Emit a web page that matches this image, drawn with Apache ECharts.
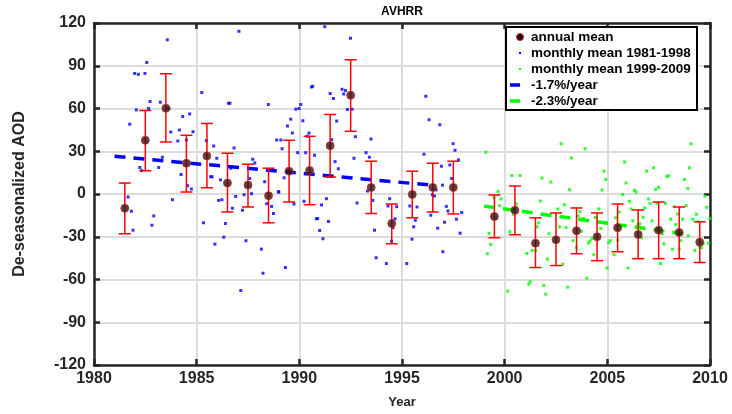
<!DOCTYPE html>
<html><head><meta charset="utf-8">
<script src="https://cdn.jsdelivr.net/npm/echarts@6/dist/echarts.min.js"></script>
<style>html,body{margin:0;padding:0;background:#fff}#c{width:732px;height:414px}</style>
</head><body><div id="c"></div>
<script>
// ---- data ----
const xTicks = [1980, 1985, 1990, 1995, 2000, 2005, 2010];
const yTicks = [-120, -90, -60, -30, 0, 30, 60, 90, 120];

const annualYears = [1981.5,1982.5,1983.5,1984.5,1985.5,1986.5,1987.5,1988.5,1989.5,1990.5,1991.5,1992.5,1993.5,1994.5,1995.5,1996.5,1997.5,
                     1999.5,2000.5,2001.5,2002.5,2003.5,2004.5,2005.5,2006.5,2007.5,2008.5,2009.5];
const annualMean  = [-10.0,37.7,60.2,21.6,26.7,7.7,6.3,-1.2,16.0,16.5,33.9,69.3,4.6,-20.7,-0.3,4.6,4.6,
                     -15.8,-11.4,-34.5,-32.1,-25.8,-30.0,-23.7,-28.4,-25.4,-27.0,-33.8];
const annualHigh  = [7.7,58.6,84.4,41.2,49.5,28.6,20.9,18.1,37.7,40.5,55.8,94.2,23.0,-7.0,16.0,21.6,23.0,
                     -0.7,5.6,-16.7,-13.3,-9.8,-13.3,-7.0,-11.2,-5.6,-9.1,-19.5];
const annualLow   = [-27.9,16.3,36.5,1.4,4.4,-12.6,-9.1,-20.2,-5.6,-7.5,11.9,44.0,-13.7,-34.9,-16.7,-12.6,-14.0,
                     -30.7,-28.6,-51.6,-50.2,-41.9,-46.8,-40.5,-45.4,-45.4,-45.4,-48.1];

const monthly1Years = [1987.06,1983.57,1982.57,1981.98,1982.16,1982.48,1985.25,1986.55,1986.62,1988.49,1990.07,1989.99,1989.83,1982.73,1983.23,1982.06,1982.66,1983.65,1984.66,1984.32,1981.74,1989.58,1990.17,1989.42,1989.66,1990.47,1983.74,1984.16,1984.82,1984.08,1984.50,1985.47,1985.83,1986.82,1988.90,1989.10,1989.16,1989.92,1990.31,1983.33,1982.23,1983.15,1987.73,1987.83,1985.98,1986.66,1984.24,1985.68,1985.75,1986.16,1987.58,1988.31,1989.26,1982.32,1984.56,1984.74,1988.98,1987.67,
  1981.66,1981.82,1981.90,1982.91,1982.82,1983.82,1985.33,1986.07,1986.23,1986.40,1986.32,1985.89,1986.74,1986.90,1987.23,1987.31,1987.40,1987.15,1988.15,1988.23,1988.41,1988.65,1988.74,1989.00,1989.32,1989.74,1990.23,
  1991.24,1992.49,1990.59,1990.65,1991.50,1991.66,1992.08,1992.25,1992.16,1992.34,1992.57,1991.82,1992.73,1993.49,1990.39,1991.58,1990.74,1992.66,1993.25,1993.41,1991.74,1991.90,1996.16,1996.32,1996.84,1997.49,1997.58,1997.75,1996.07,1996.92,1997.33,1997.42,1996.97,1996.66,
  1991.08,1991.32,1990.83,1990.89,1991.42,1990.99,1991.15,1992.81,1993.32,1993.58,1993.66,1993.74,1994.24,1994.40,1994.32,1994.74,1994.66,1994.56,1994.49,1995.23,1995.38,1995.73,1995.65,1995.57,1995.49,1996.40,1996.48,1996.58,1997.16,1997.24,1997.07,1996.74,1996.99,1997.65,1997.91,1997.83];
const monthly1Vals = [114.2,108.2,92.3,84.6,84.0,84.6,71.2,63.7,63.7,62.8,62.8,60.0,59.5,64.9,64.4,59.0,60.0,60.0,56.2,54.4,49.0,52.5,51.4,47.7,42.8,42.8,43.5,44.9,43.7,37.2,37.9,37.4,33.7,32.3,37.9,37.9,31.8,29.0,29.0,25.8,18.6,18.6,24.4,21.8,25.1,18.1,13.7,12.1,12.1,9.9,10.9,8.6,11.4,16.4,5.8,3.5,1.6,0.2,
  -2.1,-12.1,-25.4,-15.4,-21.9,-4.0,-20.2,-4.5,-4.0,-20.7,-30.3,-35.2,-10.0,-1.7,-11.4,-0.5,-32.8,-67.7,-38.7,-55.6,-6.8,-8.7,-13.7,1.4,-51.6,-7.0,-5.1,
  117.4,109.3,75.1,75.6,70.5,67.0,73.5,72.6,70.2,59.3,59.5,51.2,40.2,38.6,40.5,38.1,27.2,25.1,29.0,25.8,22.7,17.7,68.6,52.1,48.6,35.3,30.7,23.9,27.9,19.5,20.4,10.9,6.2,2.9,
  -7.7,-3.3,-17.4,-17.2,-19.3,-25.6,-31.4,-6.3,2.1,-4.5,-25.4,-44.7,-48.8,-3.3,-8.4,-8.9,-17.4,-23.7,-33.1,-48.8,-8.4,-9.1,-18.4,-23.0,-31.7,-14.9,-0.5,-1.4,-8.7,-11.9,-19.8,-24.0,-40.5,-17.7,-13.0,-27.5];

const monthly2Years = [1999.08,2000.35,1999.68,1999.82,1999.76,1999.48,1999.24,1999.32,1999.16,2000.15,2000.57,2000.43,2000.25,1999.57,2002.75,2003.92,2003.25,2005.84,2009.08,2000.75,2001.82,2002.25,2003.16,2004.84,2004.92,2005.91,2006.91,2007.25,2007.90,2007.98,2008.76,2009.00,2007.35,2007.50,2008.92,2004.74,2006.32,2006.40,
  2001.08,2001.17,2001.24,2001.34,2001.50,2001.66,2001.58,2001.74,2001.90,2002.00,2002.08,2002.16,2002.59,2002.67,2002.83,2002.91,2002.99,2003.07,2003.33,2003.50,2003.58,2003.66,2003.74,2003.84,2004.00,2004.08,2004.16,2004.26,2004.34,2004.42,2004.58,2004.68,2004.99,2005.07,2005.15,2005.33,2005.41,2005.51,2005.57,2005.75,2006.00,2006.08,2006.16,2006.24,2006.50,2006.57,2006.66,2006.74,2006.82,2007.00,2007.08,2007.17,2007.41,2007.59,2007.67,2007.75,2007.83,2008.08,2008.17,2008.25,2008.33,2008.42,2008.50,2008.58,2008.66,2008.84,2008.95,2009.16,2009.26,2009.34,2009.42,2009.50,2009.59,2009.66,2009.75,2009.84,2009.93,2009.99];
const monthly2Vals = [29.3,13.0,1.8,-3.5,-8.2,-2.6,-27.7,-35.4,-41.9,-68.2,-7.0,-14.2,-26.5,-17.2,35.3,31.8,25.3,22.5,35.3,13.0,11.2,8.4,3.0,16.0,10.2,7.7,16.0,18.4,12.3,12.8,10.2,18.4,3.2,4.6,3.9,2.8,2.6,1.4,
  -41.7,-63.3,-61.7,-39.6,-39.6,-20.2,-23.0,-4.9,-64.2,-70.3,-45.8,-27.9,-10.5,-23.0,-49.3,-7.5,-23.5,-65.4,-32.8,-37.7,-15.4,-12.4,-26.1,-17.2,-59.1,-34.5,-33.1,-31.2,-42.6,-16.5,-10.5,-24.2,-51.9,-34.2,-32.8,-42.6,-16.7,-32.4,-12.6,-0.3,-51.9,-5.1,-10.5,-18.8,-21.4,-20.9,-30.7,-16.3,-9.8,-3.5,-6.6,-18.8,-6.6,-48.8,-27.9,-34.9,-6.6,-17.7,-38.7,-8.9,-21.4,-14.0,-38.7,-32.8,-17.7,-8.2,-29.3,-17.7,-39.6,-14.2,-19.5,-37.3,-37.7,-34.9,-1.4,-9.3,-34.5,-17.2];

const trend1Years = [1981.0, 1996.6];
const trend1Vals  = [26.5, 6.0];
const trend2Years = [1999.0, 2009.0];
const trend2Vals  = [-8.5, -28.5];

const legendLabels = ['annual mean', 'monthly mean 1981-1998', 'monthly mean 1999-2009', '-1.7%/year', '-2.3%/year'];
const titleText = 'AVHRR';
const xName = 'Year';
const yName = 'De-seasonalized AOD';

// ---- chart ----
const FONT = '"Liberation Sans", Arial, sans-serif';
const AX = '#262626';
const zip = (a, b) => a.map((v, i) => [v, b[i]]);
const chart = echarts.init(document.getElementById('c'), null, {renderer: 'canvas'});

const axisCommon = {
  type: 'value',
  axisLine: {show: true, onZero: false, lineStyle: {color: AX, width: 2.5}},
  axisTick: {show: true, inside: true, length: 6, lineStyle: {color: AX, width: 2.5}},
};

const errData = annualYears.map((x, i) => [x, annualLow[i], annualHigh[i]]);

const lx = 506, ly = 27, rowH = 16;
const legendGraphics = [
  {type: 'rect', shape: {x: lx, y: ly, width: 191, height: 83}, style: {fill: '#fff', stroke: '#000', lineWidth: 2}, z: 100},
  {type: 'circle', shape: {cx: 520, cy: ly + 10, r: 3.5}, style: {fill: '#1a1010', stroke: '#cc2222', lineWidth: 1}, z: 101},
  {type: 'rect', shape: {x: 519, y: ly + 10 + rowH - 1, width: 2, height: 2}, style: {fill: '#0000ff'}, z: 101},
  {type: 'rect', shape: {x: 519, y: ly + 10 + 2 * rowH - 1, width: 2, height: 2}, style: {fill: '#00ff00'}, z: 101},
  {type: 'line', shape: {x1: 510, y1: ly + 10 + 3 * rowH, x2: 520, y2: ly + 10 + 3 * rowH}, style: {stroke: '#0000ff', lineWidth: 3.5}, z: 101},
  {type: 'line', shape: {x1: 510, y1: ly + 10 + 4 * rowH, x2: 520, y2: ly + 10 + 4 * rowH}, style: {stroke: '#00ff00', lineWidth: 3.5}, z: 101},
].concat(legendLabels.map((t, i) => ({
  type: 'text', x: 531, y: ly + 10 + i * rowH, z: 101,
  style: {text: t, fill: '#000', font: 'bold 13.5px ' + FONT, textVerticalAlign: 'middle', verticalAlign: 'middle'}
})));

const option = {
  backgroundColor: '#fff',
  animation: false,
  grid: {left: 94, right: 22, top: 23, bottom: 47, containLabel: false},
  graphic: [
    {type: 'text', x: 402, y: 12, style: {text: titleText, fill: '#000', font: 'bold 12px ' + FONT, textAlign: 'center', align: 'center', textVerticalAlign: 'middle', verticalAlign: 'middle'}},
  ].concat(legendGraphics),
  xAxis: [
    Object.assign({}, axisCommon, {
      min: xTicks[0], max: xTicks[xTicks.length - 1], interval: 5, position: 'bottom',
      name: xName, nameLocation: 'middle', nameGap: 31,
      nameTextStyle: {fontFamily: FONT, fontWeight: 'bold', fontSize: 13, color: AX},
      axisLabel: {fontFamily: FONT, fontWeight: 'bold', fontSize: 16, color: AX, margin: 6,
                  formatter: v => String(v)},
      splitLine: {show: true, lineStyle: {color: '#dcdcdc', width: 2}}
    }),
    Object.assign({}, axisCommon, {
      min: xTicks[0], max: xTicks[xTicks.length - 1], interval: 5, position: 'top',
      axisLabel: {show: false}, splitLine: {show: false}
    })
  ],
  yAxis: [
    Object.assign({}, axisCommon, {
      min: yTicks[0], max: yTicks[yTicks.length - 1], interval: 30, position: 'left',
      name: yName, nameLocation: 'middle', nameGap: 66, nameRotate: 90,
      nameTextStyle: {fontFamily: FONT, fontWeight: 'bold', fontSize: 16, color: AX},
      axisLabel: {fontFamily: FONT, fontWeight: 'bold', fontSize: 16, color: AX, margin: 8},
      splitLine: {show: true, lineStyle: {color: '#dcdcdc', width: 2}}
    }),
    Object.assign({}, axisCommon, {
      min: yTicks[0], max: yTicks[yTicks.length - 1], interval: 30, position: 'right',
      axisLabel: {show: false}, splitLine: {show: false}
    })
  ],
  series: [
    {type: 'scatter', data: zip(monthly1Years, monthly1Vals), symbol: 'rect', symbolSize: 3,
     itemStyle: {color: '#0000ff'}, z: 2, silent: true},
    {type: 'scatter', data: zip(monthly2Years, monthly2Vals), symbol: 'rect', symbolSize: 3,
     itemStyle: {color: '#00ff00'}, z: 2, silent: true},
    {type: 'line', data: zip(trend1Years, trend1Vals), symbol: 'none', z: 3,
     lineStyle: {color: '#0000ff', width: 3.5, type: [11, 8]}},
    {type: 'line', data: zip(trend2Years, trend2Vals), symbol: 'none', z: 3,
     lineStyle: {color: '#00ff00', width: 3.5, type: [11, 8]}},
    {type: 'custom', z: 4, data: errData, encode: {x: 0, y: [1, 2]},
     renderItem: function (params, api) {
       const x = api.value(0);
       const pLo = api.coord([x, api.value(1)]);
       const pHi = api.coord([x, api.value(2)]);
       const w = 6;
       const st = {stroke: '#ff0000', lineWidth: 1.5};
       return {type: 'group', children: [
         {type: 'line', shape: {x1: pLo[0], y1: pLo[1], x2: pHi[0], y2: pHi[1]}, style: st},
         {type: 'line', shape: {x1: pLo[0] - w, y1: pLo[1], x2: pLo[0] + w, y2: pLo[1]}, style: st},
         {type: 'line', shape: {x1: pHi[0] - w, y1: pHi[1], x2: pHi[0] + w, y2: pHi[1]}, style: st}
       ]};
     }},
    {type: 'scatter', data: zip(annualYears, annualMean), symbol: 'circle', symbolSize: 8, z: 5,
     itemStyle: {color: '#2a1616', borderColor: '#d02020', borderWidth: 1}}
  ]
};
chart.setOption(option);
</script>
</body></html>
